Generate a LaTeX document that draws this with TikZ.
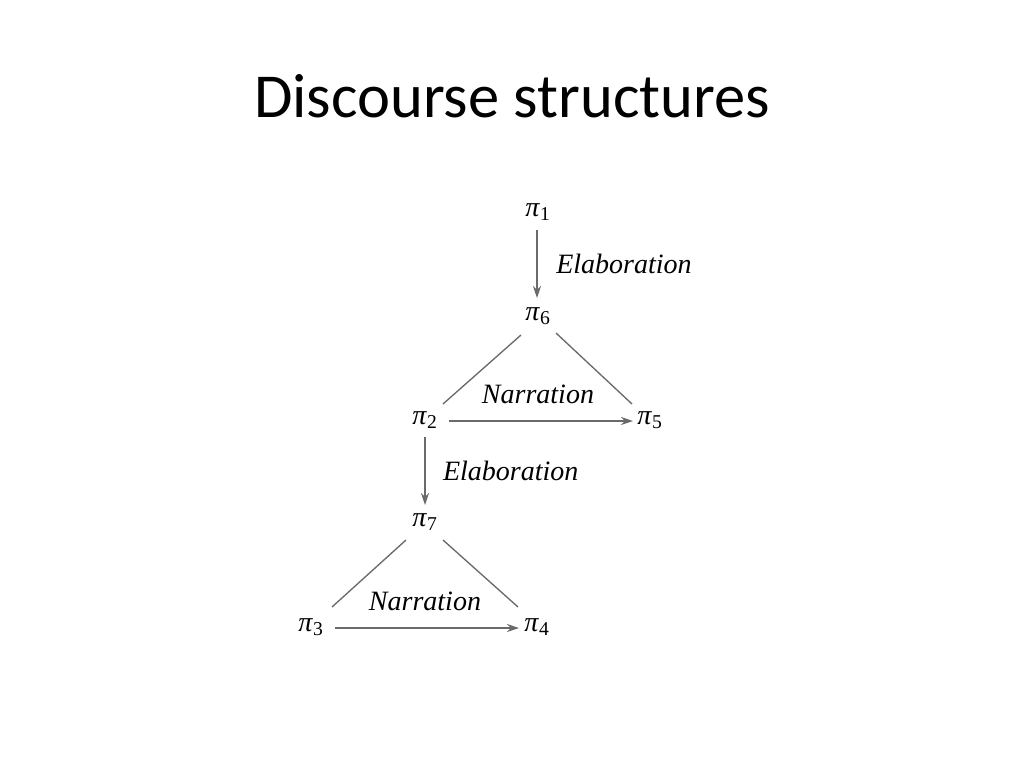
\documentclass[tikz,border=0pt]{standalone}
\usepackage{fontspec}
\setmainfont{Liberation Serif}
\newfontfamily\titlefont{Carlito}
\usetikzlibrary{arrows.meta}
\definecolor{edgegray}{HTML}{6A6A6A}
\begin{document}
\begin{tikzpicture}[x=0.75pt,y=-0.75pt,
  pinode/.style={inner sep=0pt,font=\fontsize{21}{24}\selectfont},
  rellabel/.style={inner sep=0pt,font=\fontsize{21}{24}\selectfont\itshape},
  edge/.style={draw=edgegray,line width=1pt},
  relarrow/.style={edge,-{Stealth[length=9pt,width=6pt]}}]
\useasboundingbox[fill=white] (0,0) rectangle (1024,768);
\node[anchor=base,inner sep=0pt,font=\fontsize{46.9}{56}\titlefont] (title) at (512,117) {Discourse structures};
\node[pinode] (p1) at (538,212) {\textit{π}\textsubscript{1}};
\node[pinode] (p6) at (538,316) {\textit{π}\textsubscript{6}};
\node[pinode] (p2) at (425,420) {\textit{π}\textsubscript{2}};
\node[pinode] (p5) at (650,420) {\textit{π}\textsubscript{5}};
\node[pinode] (p7) at (425,522) {\textit{π}\textsubscript{7}};
\node[pinode] (p3) at (311,627) {\textit{π}\textsubscript{3}};
\node[pinode] (p4) at (537,627) {\textit{π}\textsubscript{4}};
\coordinate (a1s) at (537,230); \coordinate (a1e) at (537,298);
\coordinate (a2s) at (425,437); \coordinate (a2e) at (425,505);
\draw[relarrow] (a1s) -- (a1e) node[rellabel,midway,right=14pt] (e1) {Elaboration};
\draw[relarrow] (a2s) -- (a2e) node[rellabel,midway,right=13pt] (e2) {Elaboration};
\coordinate (l1a) at (521,335); \coordinate (l1b) at (443,404);
\coordinate (l2a) at (556,333); \coordinate (l2b) at (632,404);
\draw[edge] (l1a) -- (l1b);
\draw[edge] (l2a) -- (l2b);
\coordinate (n1s) at (449,421); \coordinate (n1e) at (633,421);
\draw[relarrow] (n1s) -- (n1e);
\node[rellabel] (nar1) at (538,394) {Narration};
\coordinate (l3a) at (406,540); \coordinate (l3b) at (332,607);
\coordinate (l4a) at (443,540); \coordinate (l4b) at (518,607);
\draw[edge] (l3a) -- (l3b);
\draw[edge] (l4a) -- (l4b);
\coordinate (n2s) at (335,628); \coordinate (n2e) at (519,628);
\draw[relarrow] (n2s) -- (n2e);
\node[rellabel] (nar2) at (425,601) {Narration};
\end{tikzpicture}
\end{document}
